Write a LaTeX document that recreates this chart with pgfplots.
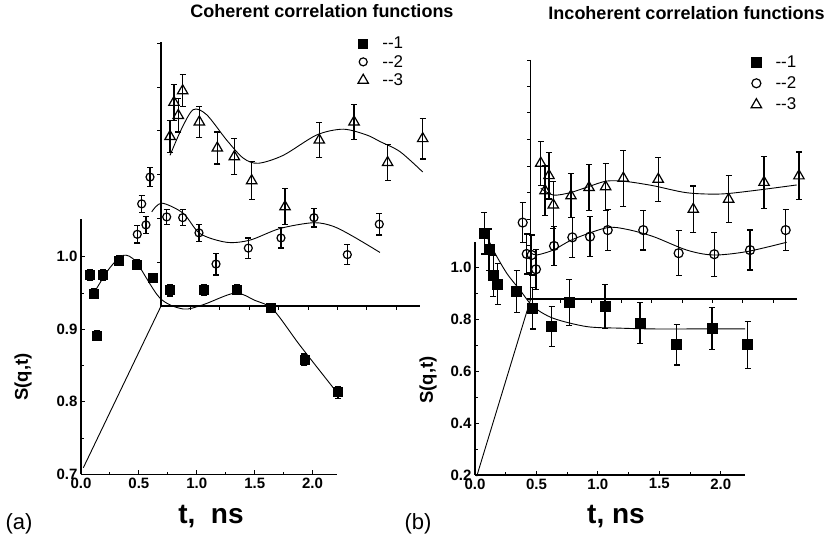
\documentclass[border=0pt]{standalone}
\usepackage{fontspec}
\setmainfont{Liberation Sans}
\usepackage{pgfplots}
\pgfplotsset{compat=1.18}

\tikzset{oframe/.style={black, line width=1.2pt}}
\pgfplotsset{
  panel/.style={
    scale only axis, clip=false,
    axis lines=left, axis line style={-, line width=1.2pt},
    tick align=inside, major tick length=4pt, minor tick length=2.5pt,
    every tick/.style={line width=1pt, black},
    tick label style={font=\bfseries\fontsize{15}{15}\selectfont},
    /pgf/number format/assume math mode=true,
    /pgf/number format/fixed, /pgf/number format/fixed zerofill,
    /pgf/number format/precision=1,
    xmin=0, xtick={0,0.5,1,1.5,2}, minor x tick num=1, minor y tick num=1,
    legend style={draw=none, fill=none, font=\fontsize{17}{19}\selectfont,
      legend cell align=left, row sep=0pt},
  },
  dat/.style={only marks, black,
    error bars/.cd, y dir=both, y explicit,
    error bar style={line width=1.2pt},
    error mark options={rotate=90, mark size=3pt, line width=1.2pt},
    /pgfplots/.cd},
  fit/.style={black, line width=0.9pt, smooth, no marks, forget plot},
}

\begin{document}
\begin{tikzpicture}[x=1pt,y=1pt]
\path (0,0) rectangle (833,546);

% ---------- panel (a): coherent ----------
\begin{axis}[panel, at={(81pt,71.7pt)}, anchor=south west,
  width=255.9pt, height=255.2pt,
  xmax=2.21, ymin=0.7, ymax=1.052, ytick={0.7,0.8,0.9,1.0},
  legend style={at={(1.07,1.73)}, anchor=north west, row sep=1pt}]

% offset frame
\draw[oframe] (0.691,1.296) -- (0.691,0.932) -- (2.927,0.932);
\draw[black, line width=0.9pt] (0.02,0.709) -- (0.691,0.932);
\pgfplotsinvokeforeach{0.9924,1.0528,1.1132,1.1736,1.234,1.294}{
  \draw[line width=1pt] (0.691,#1) -- ++(-4pt,0pt);}
\pgfplotsinvokeforeach{0.945,1.199,1.453,1.707,1.961,2.215,2.469,2.723}{
  \draw[line width=1pt] (#1,0.932) -- ++(0pt,-4pt);}

\addplot[dat, mark=square*, mark options={fill=black, line width=0.8pt, mark size=4.5pt}]
coordinates {
  (0.08,0.975) +- (0,0.007) (0.11,0.949) +- (0,0.007) (0.14,0.891) +- (0,0.007)
  (0.19,0.975) +- (0,0.007) (0.33,0.995) +- (0,0.006) (0.48,0.989) +- (0,0.007)
  (0.62,0.971) +- (0,0.006) (0.77,0.954) +- (0,0.008) (1.06,0.954) +- (0,0.007)
  (1.35,0.955) +- (0,0.007) (1.64,0.930) +- (0,0.006) (1.93,0.858) +- (0,0.008)
  (2.22,0.813) +- (0,0.008)
};
\addlegendentry{\hspace{12pt}{-}{-}1}

\addplot[dat, mark=o, mark options={fill=white, line width=1.2pt, mark size=4pt}]
coordinates {
  (0.486,1.031) +- (0,0.012) (0.524,1.073) +- (0,0.012) (0.561,1.044) +- (0,0.012)
  (0.596,1.110) +- (0,0.013) (0.740,1.055) +- (0,0.010) (0.878,1.054) +- (0,0.011)
  (1.019,1.033) +- (0,0.012) (1.166,0.990) +- (0,0.015) (1.445,1.012) +- (0,0.014)
  (1.727,1.026) +- (0,0.014) (2.012,1.054) +- (0,0.013) (2.300,1.003) +- (0,0.014)
  (2.576,1.045) +- (0,0.015)
};
\addlegendentry{\hspace{12pt}{-}{-}2}

\addplot[dat, mark=triangle, mark options={fill=white, line width=1.2pt, mark size=6pt}]
coordinates {
  (0.769,1.166) +- (0,0.022) (0.803,1.213) +- (0,0.025) (0.840,1.195) +- (0,0.023)
  (0.878,1.229) +- (0,0.022) (1.022,1.186) +- (0,0.021) (1.177,1.150) +- (0,0.022)
  (1.324,1.138) +- (0,0.025) (1.474,1.105) +- (0,0.026) (1.762,1.069) +- (0,0.025)
  (2.058,1.161) +- (0,0.024) (2.358,1.186) +- (0,0.024) (2.648,1.130) +- (0,0.025)
  (2.951,1.163) +- (0,0.028)
};
\addlegendentry{\hspace{12pt}{-}{-}3}

\addplot[fit] coordinates {
  (0.13,0.955) (0.25,0.985) (0.365,1.002) (0.475,0.993) (0.682,0.943)
  (0.883,0.928) (1.056,0.934) (1.33,0.950) (1.50,0.940) (1.66,0.927)
  (1.89,0.878) (2.18,0.819)
};
\addplot[fit] coordinates {
  (0.611,1.062) (0.697,1.074) (0.883,1.060) (1.028,1.032) (1.258,1.020)
  (1.459,1.023) (1.718,1.039) (2.006,1.047) (2.179,1.042) (2.351,1.028)
  (2.582,1.006)
};
\addplot[fit] coordinates {
  (0.769,1.140) (0.870,1.177) (0.970,1.203) (1.085,1.196) (1.258,1.161)
  (1.402,1.136) (1.531,1.129) (1.747,1.140) (2.035,1.168) (2.265,1.176)
  (2.467,1.168) (2.582,1.159) (2.755,1.145) (2.951,1.117)
};
\end{axis}

% ---------- panel (b): incoherent ----------
\begin{axis}[panel, at={(475pt,71pt)}, anchor=south west,
  width=270pt, height=233.5pt,
  xmax=2.197, ymin=0.2, ymax=1.1, ytick={0.2,0.4,0.6,0.8,1.0},
  legend style={at={(1.011,1.815)}, anchor=north west, row sep=4pt}]

\draw[oframe] (0.453,1.80) -- (0.453,0.8785);
\draw[oframe] (0.421,0.8785) -- (2.618,0.8785);
\draw[black, line width=0.9pt] (0.014,0.195) -- (0.453,0.8785);
\pgfplotsinvokeforeach{0.981,1.0835,1.186,1.2885,1.391,1.4935,1.596,1.6985,1.798}{
  \draw[line width=1pt] (0.453,#1) -- ++(-4pt,0pt);}
\pgfplotsinvokeforeach{0.6995,0.946,1.1925,1.439,1.6855,1.932,2.1785,2.425}{
  \draw[line width=1pt] (#1,0.8785) -- ++(0pt,-4pt);}

\addplot[dat, mark=square*, mark options={fill=black, line width=0.8pt, mark size=5pt}]
coordinates {
  (0.076,1.132) +- (0,0.08) (0.114,1.068) +- (0,0.08) (0.149,0.968) +- (0,0.08)
  (0.185,0.936) +- (0,0.08) (0.339,0.907) +- (0,0.08) (0.470,0.843) +- (0,0.08)
  (0.624,0.772) +- (0,0.078) (0.767,0.865) +- (0,0.09) (1.058,0.850) +- (0,0.085)
  (1.343,0.786) +- (0,0.078) (1.641,0.702) +- (0,0.078) (1.928,0.764) +- (0,0.081)
  (2.219,0.702) +- (0,0.09)
};
\addlegendentry{\hspace{12pt}{-}{-}1}

\addplot[dat, mark=o, mark options={fill=white, line width=1.2pt, mark size=4.5pt}]
coordinates {
  (0.388,1.173) +- (0,0.077) (0.421,1.052) +- (0,0.077) (0.461,1.048) +- (0,0.077)
  (0.496,0.993) +- (0,0.077) (0.643,1.083) +- (0,0.075) (0.792,1.116) +- (0,0.077)
  (0.936,1.119) +- (0,0.077) (1.080,1.144) +- (0,0.08) (1.369,1.144) +- (0,0.077)
  (1.657,1.055) +- (0,0.087) (1.947,1.051) +- (0,0.085) (2.238,1.067) +- (0,0.077)
  (2.528,1.144) +- (0,0.08)
};
\addlegendentry{\hspace{12pt}{-}{-}2}

\addplot[dat, mark=triangle, mark options={fill=white, line width=1.2pt, mark size=6pt}]
coordinates {
  (0.535,1.402) +- (0,0.085) (0.570,1.296) +- (0,0.095) (0.602,1.354) +- (0,0.09)
  (0.637,1.241) +- (0,0.09) (0.781,1.276) +- (0,0.085) (0.928,1.308) +- (0,0.09)
  (1.063,1.311) +- (0,0.09) (1.207,1.344) +- (0,0.108) (1.491,1.340) +- (0,0.085)
  (1.776,1.224) +- (0,0.09) (2.064,1.263) +- (0,0.09) (2.352,1.328) +- (0,0.1)
  (2.636,1.353) +- (0,0.092)
};
\addlegendentry{\hspace{12pt}{-}{-}3}

\addplot[fit] coordinates {
  (0.068,1.151) (0.149,1.067) (0.258,0.978) (0.366,0.913) (0.474,0.849)
  (0.637,0.804) (0.909,0.772) (1.18,0.766) (1.45,0.763) (1.8,0.763) (2.197,0.763)
};
\addplot[fit] coordinates {
  (0.461,1.055) (0.502,1.048) (0.637,1.067) (0.800,1.109) (1.072,1.153)
  (1.234,1.147) (1.451,1.119) (1.723,1.067) (1.939,1.048) (2.211,1.061)
  (2.536,1.097)
};
\addplot[fit] coordinates {
  (0.535,1.305) (0.637,1.279) (0.773,1.288) (0.909,1.309) (1.072,1.333)
  (1.234,1.331) (1.451,1.315) (1.723,1.288) (1.993,1.283) (2.264,1.296)
  (2.618,1.318)
};
\end{axis}

% ---------- texts ----------
\node[font=\bfseries\fontsize{18}{20}\selectfont] at (322,535) {Coherent correlation functions};
\node[font=\bfseries\fontsize{18}{20}\selectfont] at (686.5,533) {Incoherent correlation functions};
\node[font=\bfseries\fontsize{28}{30}\selectfont] at (211,29) {t,\ \ ns};
\node[font=\bfseries\fontsize{28}{30}\selectfont] at (616,29) {t, ns};
\node[rotate=90, font=\bfseries\fontsize{18.5}{20}\selectfont] at (23,169) {S(q,t)};
\node[rotate=90, font=\bfseries\fontsize{18.5}{20}\selectfont] at (428,166) {S(q,t)};
\node[font=\fontsize{22}{24}\selectfont] at (19,22) {(a)};
\node[font=\fontsize{22}{24}\selectfont] at (418,22) {(b)};
\end{tikzpicture}
\end{document}
